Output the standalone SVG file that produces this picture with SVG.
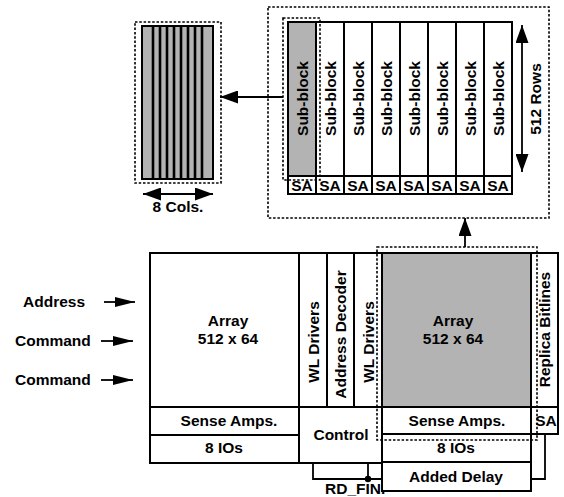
<svg xmlns="http://www.w3.org/2000/svg" width="564" height="497" viewBox="0 0 564 497">
<style>
text{font-family:"Liberation Sans",Arial,sans-serif;font-weight:bold;font-size:15.5px;fill:#000}
.c{text-anchor:middle}
.b{fill:#fff;stroke:#000;stroke-width:2}
.g{fill:#b3b3b3;stroke:#000;stroke-width:2}
.d{fill:none;stroke:#000;stroke-width:1.6;stroke-dasharray:2.5,1.8}
.w{fill:none;stroke:#000;stroke-width:1.8}
.bl{stroke:#000;stroke-width:2.6}
</style>
<defs>
<marker id="a1" markerUnits="userSpaceOnUse" markerWidth="20" markerHeight="10" refX="20" refY="5" orient="auto-start-reverse"><path d="M0,0L20,5L0,10z" fill="#000"/></marker>
<marker id="a2" markerUnits="userSpaceOnUse" markerWidth="18" markerHeight="13" refX="18" refY="6.5" orient="auto-start-reverse"><path d="M0,0L18,6.5L0,13z" fill="#000"/></marker>
</defs>
<rect width="564" height="497" fill="#fff"/>

<g id="zoomed-column">
<rect class="d" x="135" y="22" width="86" height="161"/>
<rect class="g" x="142" y="26" width="71" height="153"/>
<g class="bl">
<line x1="153" y1="26" x2="153" y2="179"/><line x1="160" y1="26" x2="160" y2="179"/>
<line x1="167" y1="26" x2="167" y2="179"/><line x1="174" y1="26" x2="174" y2="179"/>
<line x1="181" y1="26" x2="181" y2="179"/><line x1="188" y1="26" x2="188" y2="179"/>
<line x1="195" y1="26" x2="195" y2="179"/><line x1="202" y1="26" x2="202" y2="179"/>
</g>
<line class="w" x1="143" y1="194" x2="213" y2="194" marker-start="url(#a2)" marker-end="url(#a2)"/>
<text class="c" x="178" y="212">8 Cols.</text>
</g>

<g id="subblocks">
<rect class="d" x="268" y="7" width="281" height="211"/>
<rect class="g" x="288" y="22" width="28" height="154"/>
<rect class="b" x="316" y="22" width="28" height="154"/>
<rect class="b" x="344" y="22" width="28" height="154"/>
<rect class="b" x="372" y="22" width="28" height="154"/>
<rect class="b" x="400" y="22" width="28" height="154"/>
<rect class="b" x="428" y="22" width="28" height="154"/>
<rect class="b" x="456" y="22" width="28" height="154"/>
<rect class="b" x="484" y="22" width="28" height="154"/>
<rect class="b" x="288" y="176" width="28" height="18"/>
<rect class="b" x="316" y="176" width="28" height="18"/>
<rect class="b" x="344" y="176" width="28" height="18"/>
<rect class="b" x="372" y="176" width="28" height="18"/>
<rect class="b" x="400" y="176" width="28" height="18"/>
<rect class="b" x="428" y="176" width="28" height="18"/>
<rect class="b" x="456" y="176" width="28" height="18"/>
<rect class="b" x="484" y="176" width="28" height="18"/>
<rect class="d" x="283" y="18" width="37" height="162"/>
<text class="c" transform="translate(307.5,98.5) rotate(-90)">Sub-block</text>
<text class="c" transform="translate(335.5,98.5) rotate(-90)">Sub-block</text>
<text class="c" transform="translate(363.5,98.5) rotate(-90)">Sub-block</text>
<text class="c" transform="translate(391.5,98.5) rotate(-90)">Sub-block</text>
<text class="c" transform="translate(419.5,98.5) rotate(-90)">Sub-block</text>
<text class="c" transform="translate(447.5,98.5) rotate(-90)">Sub-block</text>
<text class="c" transform="translate(475.5,98.5) rotate(-90)">Sub-block</text>
<text class="c" transform="translate(503.5,98.5) rotate(-90)">Sub-block</text>
<text class="c" x="302" y="191">SA</text>
<text class="c" x="330" y="191">SA</text>
<text class="c" x="358" y="191">SA</text>
<text class="c" x="386" y="191">SA</text>
<text class="c" x="414" y="191">SA</text>
<text class="c" x="442" y="191">SA</text>
<text class="c" x="470" y="191">SA</text>
<text class="c" x="498" y="191">SA</text>
<line class="w" x1="522" y1="25" x2="522" y2="172" marker-start="url(#a2)" marker-end="url(#a2)"/>
<text class="c" transform="translate(540.5,99) rotate(-90)">512 Rows</text>
</g>

<g id="inputs">
<text x="23" y="307">Address</text>
<text x="15" y="346">Command</text>
<text x="15" y="385">Command</text>
</g>

<g id="left-array">
<rect class="b" x="150" y="253" width="149" height="154"/>
<text class="c" x="228" y="326">Array</text>
<text class="c" x="228" y="344">512 x 64</text>
<rect class="b" x="150" y="407" width="149" height="28"/>
<text class="c" x="229" y="426">Sense Amps.</text>
<rect class="b" x="150" y="435" width="149" height="28"/>
<text class="c" x="224" y="453">8 IOs</text>
</g>

<g id="decoders">
<rect class="b" x="299" y="253" width="28" height="154"/>
<text class="c" transform="translate(318.5,342) rotate(-90)">WL Drivers</text>
<rect class="b" x="327" y="253" width="27" height="154"/>
<text class="c" transform="translate(346,334.5) rotate(-90)">Address Decoder</text>
<rect class="b" x="354" y="253" width="28" height="154"/>
<text class="c" transform="translate(373.5,342) rotate(-90)">WL Drivers</text>
</g>

<g id="control">
<rect class="b" x="299" y="407" width="83" height="56"/>
<text class="c" x="341" y="440">Control</text>
</g>

<g id="right-array">
<rect class="g" x="382" y="253" width="149" height="154"/>
<text class="c" x="453" y="326">Array</text>
<text class="c" x="453" y="344">512 x 64</text>
<rect class="b" x="382" y="407" width="149" height="27"/>
<text class="c" x="457" y="426">Sense Amps.</text>
<rect class="b" x="382" y="434" width="149" height="28"/>
<text class="c" x="456" y="453">8 IOs</text>
</g>

<g id="replica">
<rect class="b" x="531" y="253" width="27" height="154"/>
<text class="c" transform="translate(550,329.5) rotate(-90)">Replica Bitlines</text>
<rect class="b" x="531" y="407" width="27" height="27"/>
<text class="c" x="546" y="426">SA</text>
</g>

<g id="added-delay">
<rect class="b" x="382" y="462" width="149" height="29"/>
<text class="c" x="456" y="482">Added Delay</text>
</g>

<g id="highlight">
<rect class="d" x="377" y="247" width="160" height="193"/>
</g>

<g id="connectors">
<line class="w" x1="104" y1="302" x2="135" y2="302" marker-end="url(#a1)"/>
<line class="w" x1="101" y1="341" x2="133" y2="341" marker-end="url(#a1)"/>
<line class="w" x1="101" y1="380" x2="133" y2="380" marker-end="url(#a1)"/>
<line class="w" x1="283" y1="97" x2="220" y2="97" marker-end="url(#a2)"/>
<line class="w" x1="465" y1="247" x2="465" y2="218" marker-end="url(#a2)"/>
<polyline class="w" points="313,463 313,479 382,479"/>
<line class="w" x1="368" y1="463" x2="368" y2="479"/>
<circle cx="368" cy="479" r="3.2" fill="#000"/>
<polyline class="w" points="545,434 545,479 531,479"/>
<text x="325" y="494">RD_FIN.</text>
</g>
</svg>
